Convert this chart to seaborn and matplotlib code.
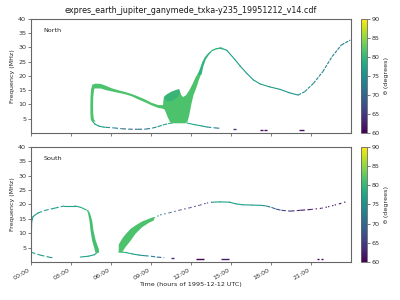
import numpy as np
import matplotlib
matplotlib.use("Agg")
import matplotlib.pyplot as plt
import seaborn as sns
from matplotlib.collections import LineCollection
from matplotlib.colors import Normalize
from matplotlib.cm import ScalarMappable

# ---------------- text / ticks ----------------
TITLE = "expres_earth_jupiter_ganymede_txka-y235_19951212_v14.cdf"
XTICKS = [0, 3, 6, 9, 12, 15, 18, 21]
XTICKLABELS = ["00:00", "03:00", "06:00", "09:00", "12:00", "15:00", "18:00", "21:00"]
YTICKS = [5, 10, 15, 20, 25, 30, 35, 40]
CBTICKS = [60, 65, 70, 75, 80, 85, 90]
THETA_MIN, THETA_MAX = 60, 90

# ---------------- North hemisphere ----------------
# upper branch of the C-shaped arc (band: low / high frequency, MHz)
N_arc_t = [4.55, 4.8, 5.2, 5.6, 6.0, 6.5, 7.0, 7.5, 8.0, 8.5, 9.0, 9.5, 10.0]
N_arc_lo = [15.6, 15.8, 15.8, 15.2, 14.8, 14.3, 13.8, 13.1, 12.0, 11.0, 9.9, 9.0, 8.6]
N_arc_hi = [17.1, 17.5, 17.4, 16.7, 15.9, 15.2, 14.6, 13.9, 13.0, 12.0, 10.8, 10.0, 9.9]
N_arc_th = 81.5
# left (vertical) edge of the arc
N_edge_f = [4.2, 5.0, 7.0, 10.0, 13.0, 15.5, 16.8]
N_edge_tl = [4.52, 4.45, 4.42, 4.42, 4.43, 4.47, 4.55]
N_edge_tr = [4.80, 4.68, 4.63, 4.62, 4.64, 4.70, 4.80]
N_edge_th = 81.5
# broadband blob + lower rising branch (outline)
N_blob_t = [9.9, 9.93, 9.98, 10.15, 10.55, 10.9, 11.12, 11.28, 11.42, 11.65, 11.9, 12.15,
            12.35, 12.55, 12.8, 12.6, 12.4, 12.2, 12.05, 11.95, 11.88, 11.75, 11.6,
            10.55, 10.42, 10.25, 10.05]
N_blob_f = [8.6, 11.0, 12.7, 13.4, 14.5, 15.1, 15.4, 13.3, 12.6, 13.3, 15.1, 17.4,
            19.5, 21.0, 21.0, 18.6, 15.7, 13.3, 10.4, 8.0, 6.3, 4.0, 3.4,
            3.4, 4.0, 5.7, 8.1]
N_blob_th = 81.5
N_core_t = [9.98, 10.15, 10.55, 10.9, 11.12, 11.2, 11.0, 10.6, 10.2]
N_core_f = [12.3, 13.4, 14.5, 15.1, 15.4, 14.0, 12.5, 11.3, 11.0]
N_core_th = 77.5
# upper rising branch (outline)
N_rise_t = [12.5, 12.68, 12.85, 13.05, 13.3, 13.6, 13.9, 14.2, 14.45,
            14.4, 14.15, 13.9, 13.6, 13.35, 13.12, 12.95, 12.8]
N_rise_f = [20.5, 22.5, 24.8, 26.6, 28.0, 29.2, 29.8, 30.0, 29.8,
            29.3, 29.5, 29.3, 28.7, 27.4, 25.8, 23.6, 20.5]
N_rise_th = 79.5
# thin tracks (time h, frequency MHz, theta deg)
N_peak_t = [14.2, 14.7, 15.3, 15.7, 16.2, 16.7, 17.2, 17.9, 18.7, 19.4, 20.05]
N_peak_f = [29.9, 29.0, 25.8, 23.5, 20.9, 18.6, 17.2, 16.2, 15.3, 14.1, 13.3]
N_peak_th = [77, 77, 76.5, 76.5, 76.5, 76.5, 76.5, 76.5, 76, 76, 75.5]
N_tail_t = [20.05, 20.55, 21.2, 21.9, 22.6, 23.3, 23.97]
N_tail_f = [13.3, 14.5, 17.4, 21.5, 26.8, 30.9, 32.6]
N_tail_th = [75.5, 75, 74.5, 74, 73.5, 73, 72.5]
N_low1a_t = [4.6, 4.8, 5.1, 5.4]
N_low1a_f = [4.3, 3.1, 2.4, 2.1]
N_low1a_th = [78, 77, 77, 77]
N_low1b_t = [5.4, 5.6, 6.2, 6.8, 7.3, 8.0, 8.6, 9.1, 9.5, 9.9, 10.3, 10.6]
N_low1b_f = [2.1, 2.0, 1.8, 1.5, 1.35, 1.3, 1.35, 1.7, 2.2, 2.8, 3.3, 3.5]
N_low1b_th = [77, 76, 74, 72, 70.5, 70.5, 71, 73, 76, 77, 78, 79]
N_low2a_t = [11.7, 12.3, 12.8, 13.2]
N_low2a_f = [3.5, 2.9, 2.5, 2.1]
N_low2a_th = [79, 78, 77, 76]
N_low2b_t = [13.2, 13.8, 14.3]
N_low2b_f = [2.1, 1.8, 1.6]
N_low2b_th = [76, 74, 71]
N_dash_t0 = [15.15, 17.18, 17.48, 20.1]
N_dash_t1 = [15.4, 17.42, 17.68, 20.5]
N_dash_f = [1.3, 1.05, 1.05, 1.05]
N_dash_th = [65, 61, 61, 61]

# ---------------- South hemisphere ----------------
S_arc_a_t = [0.03, 0.05, 0.15, 0.5]
S_arc_a_f = [10.0, 14.0, 15.8, 17.0]
S_arc_a_th = [78, 77, 76, 76]
S_arc_b_t = [0.5, 1.0, 1.75, 2.5]
S_arc_b_f = [17.0, 17.9, 18.7, 19.5]
S_arc_b_th = [76, 76, 76.5, 77]
S_arc_c_t = [2.5, 3.3, 3.75, 4.15]
S_arc_c_f = [19.5, 19.5, 19.0, 18.1]
S_arc_c_th = [77, 77, 78, 80]
# steep descending band
S_band1_f = [3.5, 4.8, 7.7, 11.2, 14.6, 17.0, 18.3]
S_band1_tl = [4.80, 4.73, 4.55, 4.43, 4.35, 4.25, 4.15]
S_band1_tr = [5.08, 5.05, 4.82, 4.65, 4.55, 4.40, 4.25]
S_band1_th = 81
# rising band
S_band2_t = [6.55, 6.8, 7.05, 7.45, 7.8, 8.3, 8.8, 9.2]
S_band2_lo = [3.6, 3.6, 5.4, 7.7, 10.0, 12.3, 13.8, 14.7]
S_band2_hi = [6.3, 8.3, 9.8, 11.8, 12.9, 14.3, 15.2, 15.9]
S_band2_th = 81.5
S_low1_t = [0.0, 0.68, 1.43, 1.6]
S_low1_f = [3.5, 2.5, 1.7, 1.6]
S_low1_th = [77, 77, 76, 76]
S_low2_t = [5.0, 4.75, 4.3, 3.7]
S_low2_f = [3.5, 2.6, 2.1, 1.8]
S_low2_th = [79, 77, 77, 77]
S_low3a_t = [6.6, 7.1, 7.6, 8.1, 8.5]
S_low3a_f = [3.6, 3.4, 2.9, 2.5, 2.3]
S_low3a_th = [80, 79, 77, 76, 75]
S_low3b_t = [8.5, 9.0, 9.45, 10.0]
S_low3b_f = [2.3, 2.1, 1.8, 1.6]
S_low3b_th = [75, 74, 72, 68]
S_up_a_t = [9.2, 9.7, 10.45, 11.2, 11.95, 12.7, 13.2, 13.6]
S_up_a_f = [15.3, 16.4, 17.2, 18.1, 18.9, 19.8, 20.5, 20.8]
S_up_a_th = [78, 74, 69, 65, 64, 63, 65, 72]
S_up_b_t = [13.6, 14.2, 14.9, 15.4, 15.9, 16.6, 17.3]
S_up_b_f = [20.8, 20.9, 20.8, 20.2, 19.9, 19.8, 19.7]
S_up_b_th = [77, 77, 77, 77, 77, 76.5, 76]
S_up_c_t = [17.3, 17.65, 18.05, 18.4, 18.8, 19.45, 20.25, 21.05]
S_up_c_f = [19.7, 19.5, 19.0, 18.4, 18.0, 17.7, 18.0, 18.3]
S_up_c_th = [76, 74, 71, 69, 67, 66, 63, 61]
S_up_d_t = [21.05, 21.8, 22.3, 22.8, 23.2, 23.6]
S_up_d_f = [18.3, 18.7, 19.2, 19.8, 20.3, 20.9]
S_up_d_th = [61, 61.5, 61.5, 61.5, 61.5, 61.5]
S_dash_t0 = [10.5, 12.4, 14.3, 21.5, 21.75]
S_dash_t1 = [10.7, 13.0, 14.85, 21.65, 21.9]
S_dash_f = [1.4, 1.0, 1.0, 1.0, 1.0]
S_dash_th = [64, 60, 62, 61, 61]

# ---------------- style ----------------
sns.set_theme(style="ticks")
plt.rcParams["font.family"] = ["DejaVu Sans"]
cmap = sns.color_palette("viridis", as_cmap=True)
norm = Normalize(THETA_MIN, THETA_MAX)
FS = 4.6
SPINE = "0.4"


def track(ax, t, f, th, ls="-", lw=0.8):
    pts = np.column_stack([t, f])
    segs = np.stack([pts[:-1], pts[1:]], axis=1)
    th = np.asarray(th, float)
    cols = cmap(norm((th[:-1] + th[1:]) / 2))
    lc = LineCollection(segs, colors=cols, linewidths=lw, linestyles=ls,
                        capstyle="round" if ls == "-" else "butt", zorder=2)
    ax.add_collection(lc)


def dashes(ax, t0, t1, f, th):
    for a, b, y, c in zip(t0, t1, f, th):
        ax.plot([a, b], [y, y], color=cmap(norm(c)), lw=1.0, solid_capstyle="butt", zorder=2)


DOT = (0, (1.2, 2.6))
DASH = (0, (4, 2))

fig = plt.figure(figsize=(4, 3), dpi=100)
ax1 = fig.add_axes([0.0775, 0.5567, 0.7993, 0.38])
ax2 = fig.add_axes([0.0775, 0.1257, 0.7993, 0.3853])
cax1 = fig.add_axes([0.9025, 0.5567, 0.015, 0.38])
cax2 = fig.add_axes([0.9025, 0.1257, 0.015, 0.3853])

# North
ax1.fill_between(N_arc_t, N_arc_lo, N_arc_hi, color=cmap(norm(N_arc_th)), lw=0, zorder=3)
ax1.fill_betweenx(N_edge_f, N_edge_tl, N_edge_tr, color=cmap(norm(N_edge_th)), lw=0, zorder=3)
ax1.fill(N_blob_t, N_blob_f, color=cmap(norm(N_blob_th)), lw=0, zorder=3)
ax1.fill(N_core_t, N_core_f, color=cmap(norm(N_core_th)), lw=0, alpha=0.45, zorder=3)
ax1.fill(N_rise_t, N_rise_f, color=cmap(norm(N_rise_th)), lw=0, zorder=3)
track(ax1, N_peak_t, N_peak_f, N_peak_th)
track(ax1, N_tail_t, N_tail_f, N_tail_th, ls=(0, (3, 1)))
track(ax1, N_low1a_t, N_low1a_f, N_low1a_th)
track(ax1, N_low1b_t, N_low1b_f, N_low1b_th, ls=DASH)
track(ax1, N_low2a_t, N_low2a_f, N_low2a_th)
track(ax1, N_low2b_t, N_low2b_f, N_low2b_th, ls=DASH)
dashes(ax1, N_dash_t0, N_dash_t1, N_dash_f, N_dash_th)

# South
track(ax2, S_arc_a_t, S_arc_a_f, S_arc_a_th)
track(ax2, S_arc_b_t, S_arc_b_f, S_arc_b_th, ls=DASH)
track(ax2, S_arc_c_t, S_arc_c_f, S_arc_c_th)
ax2.fill_betweenx(S_band1_f, S_band1_tl, S_band1_tr, color=cmap(norm(S_band1_th)), lw=0, zorder=3)
ax2.fill_between(S_band2_t, S_band2_lo, S_band2_hi, color=cmap(norm(S_band2_th)), lw=0, zorder=3)
track(ax2, S_low1_t, S_low1_f, S_low1_th, ls=DASH)
track(ax2, S_low2_t, S_low2_f, S_low2_th)
track(ax2, S_low3a_t, S_low3a_f, S_low3a_th)
track(ax2, S_low3b_t, S_low3b_f, S_low3b_th, ls=DASH)
track(ax2, S_up_a_t, S_up_a_f, S_up_a_th, ls=DOT)
track(ax2, S_up_b_t, S_up_b_f, S_up_b_th)
track(ax2, S_up_c_t, S_up_c_f, S_up_c_th, ls=DASH)
track(ax2, S_up_d_t, S_up_d_f, S_up_d_th, ls=DOT)
dashes(ax2, S_dash_t0, S_dash_t1, S_dash_f, S_dash_th)

for ax, name in [(ax1, "North"), (ax2, "South")]:
    ax.set_xlim(0, 24)
    ax.set_ylim(0, 40)
    ax.set_xticks(XTICKS)
    ax.set_yticks(YTICKS)
    ax.set_ylabel("Frequency (MHz)", fontsize=FS, labelpad=2)
    ax.tick_params(labelsize=FS, length=2, width=0.6, color=SPINE, pad=1.5, labelcolor="0.2")
    for s in ax.spines.values():
        s.set_color(SPINE)
        s.set_linewidth(0.8)
    ax.text(0.04, 0.9, name, transform=ax.transAxes, fontsize=FS, va="center", color="0.15")

ax1.tick_params(labelbottom=False)
ax2.set_xticklabels(XTICKLABELS, rotation=30, ha="right")
ax2.set_xlabel("Time (hours of 1995-12-12 UTC)", fontsize=FS, labelpad=1)
ax1.set_title(TITLE, fontsize=5.8, pad=4, color="0.1")

for cax in (cax1, cax2):
    cb = fig.colorbar(ScalarMappable(norm=norm, cmap=cmap), cax=cax)
    cb.set_ticks(CBTICKS)
    cb.outline.set_edgecolor(SPINE)
    cb.outline.set_linewidth(0.6)
    cax.tick_params(labelsize=FS, length=2, width=0.6, color=SPINE, pad=1.5, labelcolor="0.2")
    cb.set_label("θ (degrees)", fontsize=FS, labelpad=3)

fig.savefig("out.png", dpi=100)
